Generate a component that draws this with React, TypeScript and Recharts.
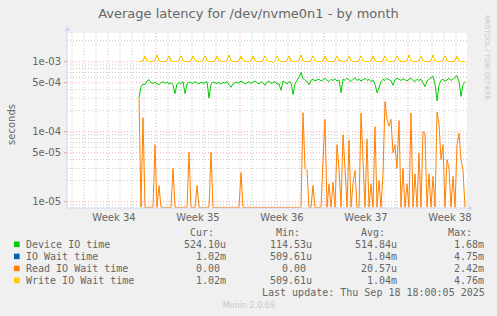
import React from 'react';
import { ComposedChart, Line, XAxis, YAxis, CartesianGrid } from 'recharts';

// ---------- data (latencies in microseconds, one sample every 4 hours) ----------
const startDay = 67 / 12; // first sample, in days after the start of week 34
const stepDays = 1 / 6; // 4 hours

const deviceIoTime = [
  303, 440, 480, 470, 530, 555, 500, 490, 510, 485,
  470, 500, 520, 490, 510, 480, 500, 470, 350, 480,
  500, 490, 520, 350, 480, 510, 500, 490, 520, 500,
  480, 510, 490, 500, 520, 303, 480, 510, 500, 490,
  500, 480, 510, 490, 520, 470, 430, 480, 500, 510,
  490, 530, 510, 480, 500, 520, 490, 510, 530, 500,
  480, 520, 500, 460, 510, 530, 490, 500, 520, 480,
  480, 390, 530, 510, 480, 520, 500, 340, 480, 540,
  600, 700, 580, 540, 520, 470, 540, 560, 530, 550,
  560, 530, 550, 580, 540, 520, 560, 540, 570, 530,
  550, 360, 560, 540, 580, 550, 520, 560, 590, 540,
  560, 530, 550, 580, 540, 560, 520, 550, 480, 360,
  420, 520, 560, 540, 580, 550, 540, 460, 550, 580,
  560, 540, 570, 550, 530, 560, 580, 540, 520, 560,
  540, 560, 500, 440, 530, 560, 590, 620, 480, 275,
  460, 540, 560, 530, 550, 580, 540, 560, 600, 630,
  520, 320, 470, 520,
];

const writeIoWaitTime = [
  1015, 1010, 1030, 1190, 1040, 1015,
  1015, 1015, 1035, 1230, 1030, 1015,
  1015, 1015, 1040, 1200, 1030, 1015,
  1015, 1015, 1030, 1210, 1040, 1015,
  1015, 1015, 1035, 1190, 1050, 1015,
  1015, 1015, 1030, 1220, 1035, 1015,
  1015, 1015, 1030, 1200, 1040, 1020,
  1015, 1015, 1035, 1230, 1030, 1015,
  1015, 1015, 1040, 1190, 1045, 1015,
  1015, 1015, 1030, 1200, 1035, 1015,
  1015, 1015, 1035, 1220, 1030, 1015,
  1015, 960, 1030, 1210, 1040, 1015,
  1015, 1015, 1035, 1200, 1030, 1015,
  1015, 1015, 1040, 1230, 1035, 1015,
  1015, 1015, 1030, 1220, 1030, 1015,
  1015, 1015, 1035, 1190, 1040, 1015,
  1015, 1015, 1030, 1210, 1035, 1040,
  1015, 1015, 1040, 1200, 1030, 1015,
  1015, 1015, 1035, 1220, 1040, 1015,
  1015, 1015, 1030, 1190, 1035, 1015,
  1015, 1015, 1035, 1210, 1030, 1015,
  1015, 1015, 1040, 1200, 1045, 1015,
  1015, 1015, 1030, 1230, 1035, 1015,
  1015, 1015, 1035, 1200, 1030, 1015,
  1015, 1015, 1030, 1230, 1040, 1015,
  1015, 1015, 1035, 1210, 1035, 1015,
  1015, 1015, 1030, 1200, 1030, 1015,
  1015, 1015,
];

// IO wait is identical to write IO wait (no reads to speak of); drawn underneath it
const ioWaitTime = [...writeIoWaitTime];

const readIoWaitTime = [
  300, 0, 158, 0, 0, 0, 0, 0, 65, 0,
  17, 0, 0, 0, 0, 0, 0, 30, 0, 0,
  0, 0, 0, 0, 0, 51, 0, 0, 0, 17,
  0, 0, 0, 0, 0, 0, 51, 0, 0, 0,
  0, 0, 0, 0, 0, 0, 0, 0, 0, 0,
  0, 26, 0, 0, 0, 0, 0, 0, 0, 0,
  0, 0, 0, 0, 0, 0, 0, 0, 0, 0,
  0, 0, 0, 0, 0, 0, 0, 0, 0, 0,
  0, 0, 187, 30, 28, 0, 0, 17, 0, 0,
  0, 0, 39, 150, 0, 18, 0, 19, 0, 65,
  30, 0, 90, 30, 0, 76, 0, 18, 28, 0,
  0, 185, 39, 0, 78, 0, 18, 0, 118, 0,
  20, 0, 25, 270, 150, 120, 150, 50, 65, 30,
  145, 0, 30, 0, 18, 0, 185, 0, 25, 0,
  49, 0, 100, 95, 0, 25, 0, 23, 0, 190,
  130, 40, 65, 0, 40, 30, 0, 23, 0, 65,
  95, 40, 28, 0,
];

const seriesNames = ['Device IO time', 'IO Wait time', 'Read IO Wait time', 'Write IO Wait time'];
const seriesColors = ['#00cc00', '#0066b3', '#ff8000', '#ffcc00'];
const curValues = ['524.10u', '1.02m', '0.00', '1.02m'];
const minValues = ['114.53u', '509.61u', '0.00', '509.61u'];
const avgValues = ['514.84u', '1.04m', '20.57u', '1.04m'];
const maxValues = ['1.68m', '4.75m', '2.42m', '4.76m'];

const weekLabels = ['Week 34', 'Week 35', 'Week 36', 'Week 37', 'Week 38'];
const weekCenters = [3.5, 10.5, 17.5, 24.5, 31.5];
const weekStarts = [0, 7, 14, 21, 28];
const dayLines = [1, 2, 3, 4, 5, 6, 8, 9, 10, 11, 12, 13, 15, 16, 17, 18, 19, 20, 22, 23, 24, 25, 26, 27, 29, 30, 31, 32];

const yMajor = [1e-5, 5e-5, 1e-4, 5e-4, 1e-3];
const yMinor = [
  9e-6,
  2e-5, 3e-5, 4e-5, 6e-5, 7e-5, 8e-5, 9e-5,
  2e-4, 3e-4, 4e-4, 6e-4, 7e-4, 8e-4, 9e-4,
  2e-3,
];

const Y_MIN = 8.13e-6;
const Y_MAX = 2.57e-3;
const Y_FLOOR = 8.3e-6; // zero values shown on the bottom edge of the log scale

const data = deviceIoTime.map((v, i) => ({
  t: startDay + i * stepDays,
  device: v * 1e-6,
  ioWait: ioWaitTime[i] * 1e-6,
  read: Math.max(readIoWaitTime[i] * 1e-6, Y_FLOOR),
  write: writeIoWaitTime[i] * 1e-6,
}));

const fmtExp = (v: number) => {
  const [m, e] = v.toExponential(0).split('e');
  const n = parseInt(e, 10);
  return `${m}e${n < 0 ? '-' : '+'}${String(Math.abs(n)).padStart(2, '0')}`;
};

const fieldStr = (s: string) => {
  const withUnit = /[0-9]$/.test(s) ? s + ' ' : s;
  return withUnit.padStart(7, ' ');
};

const FONT = 'DejaVu Sans, sans-serif';
const MONO = 'DejaVu Sans Mono, monospace';
const TEXT = '#666666';
const AXIS = '#cfd6f8';

const YTick = (props: any) => (
  <text x={61} y={props.y} dy={3.6} textAnchor="end" fontFamily={FONT} fontSize={10} fill={TEXT}>
    {fmtExp(props.payload.value)}
  </text>
);

const XTick = (props: any) => {
  const idx = weekCenters.indexOf(props.payload.value);
  return (
    <text x={props.x} y={221} textAnchor="middle" fontFamily={FONT} fontSize={10} fill={TEXT}>
      {weekLabels[idx]}
    </text>
  );
};

const rowY = [244.4, 256.5, 268.5, 280.5];
const colX = [184, 270, 355, 442];
const headers = ['Cur:', 'Min:', 'Avg:', 'Max:'];
const columns = [curValues, minValues, avgValues, maxValues];

export default function App() {
  return (
    <div style={{ position: 'fixed', left: 0, top: 0, width: 497, height: 316, background: '#f0f0f0' }}>
      <ComposedChart
        width={497}
        height={316}
        data={data}
        margin={{ top: 33, right: 30, bottom: 88, left: 0 }}
      >
        <CartesianGrid
          fill="#ffffff"
          stroke="rgba(128,128,128,0.45)"
          strokeDasharray="1 2"
          horizontalValues={yMinor}
          verticalValues={dayLines}
        />
        <CartesianGrid
          stroke="rgba(255,0,0,0.35)"
          strokeDasharray="1 2"
          horizontalValues={yMajor}
          verticalValues={weekStarts}
        />
        <XAxis
          dataKey="t"
          type="number"
          domain={[-5 / 12, 395 / 12]}
          allowDataOverflow
          ticks={weekCenters}
          tick={<XTick />}
          tickLine={false}
          axisLine={{ stroke: AXIS }}
          height={20}
          interval={0}
        />
        <YAxis
          type="number"
          scale="log"
          domain={[Y_MIN, Y_MAX]}
          allowDataOverflow
          ticks={yMajor}
          tick={<YTick />}
          tickSize={3}
          tickMargin={3}
          tickLine={{ stroke: 'rgba(255,0,0,0.35)' }}
          axisLine={{ stroke: AXIS }}
          width={67}
          interval={0}
        />
        <Line dataKey="device" stroke={seriesColors[0]} strokeWidth={1} dot={false} activeDot={false} isAnimationActive={false} type="linear" />
        <Line dataKey="ioWait" stroke={seriesColors[1]} strokeWidth={1} dot={false} activeDot={false} isAnimationActive={false} type="linear" shapeRendering="crispEdges" />
        <Line dataKey="read" stroke={seriesColors[2]} strokeWidth={1} dot={false} activeDot={false} isAnimationActive={false} type="linear" />
        <Line dataKey="write" stroke={seriesColors[3]} strokeWidth={1} dot={false} activeDot={false} isAnimationActive={false} type="linear" shapeRendering="crispEdges" />
      </ComposedChart>
      <svg width={497} height={316} style={{ position: 'absolute', left: 0, top: 0, pointerEvents: 'none' }}>
        <text x={248.5} y={17.8} textAnchor="middle" fontFamily={FONT} fontSize={13} fill={TEXT}>
          Average latency for /dev/nvme0n1 - by month
        </text>
        <text transform="translate(15,124.5) rotate(-90)" textAnchor="middle" fontFamily={FONT} fontSize={10} fill={TEXT}>
          seconds
        </text>
        <text transform="translate(485,15) rotate(90)" fontFamily={FONT} fontSize={6.6} fill="#c4c4c4">
          RRDTOOL / TOBI OETIKER
        </text>
        {/* axis arrows */}
        <line x1={67.5} y1={33} x2={67.5} y2={30} stroke={AXIS} />
        <polygon points="64.5,31 70.5,31 67.5,26.5" fill={AXIS} />
        <line x1={467} y1={208.5} x2={469} y2={208.5} stroke={AXIS} />
        <polygon points="468.5,205.5 468.5,211.5 473,208.5" fill={AXIS} />
        {/* legend */}
        {headers.map((h, j) => (
          <text key={h} x={colX[j] + 6} y={235.8} fontFamily={MONO} fontSize={10} fill={TEXT} style={{ whiteSpace: 'pre' }}>
            {h}
          </text>
        ))}
        {seriesNames.map((name, i) => (
          <g key={name}>
            <rect x={14} y={rowY[i] - 2.9} width={5.6} height={5.6} fill={seriesColors[i]} />
            <text x={26} y={rowY[i] + 3.5} fontFamily={MONO} fontSize={10} fill={TEXT} style={{ whiteSpace: 'pre' }}>
              {name}
            </text>
            {columns.map((col, j) => (
              <text key={j} x={colX[j]} y={rowY[i] + 3.5} fontFamily={MONO} fontSize={10} fill={TEXT} style={{ whiteSpace: 'pre' }}>
                {fieldStr(col[i])}
              </text>
            ))}
          </g>
        ))}
        <text x={262} y={296.2} fontFamily={MONO} fontSize={10} fill={TEXT} style={{ whiteSpace: 'pre' }}>
          Last update: Thu Sep 18 18:00:05 2025
        </text>
        <text x={222.7} y={307.8} fontFamily={FONT} fontSize={8} fill="#c8c8c8">
          Munin 2.0.69
        </text>
      </svg>
    </div>
  );
}
